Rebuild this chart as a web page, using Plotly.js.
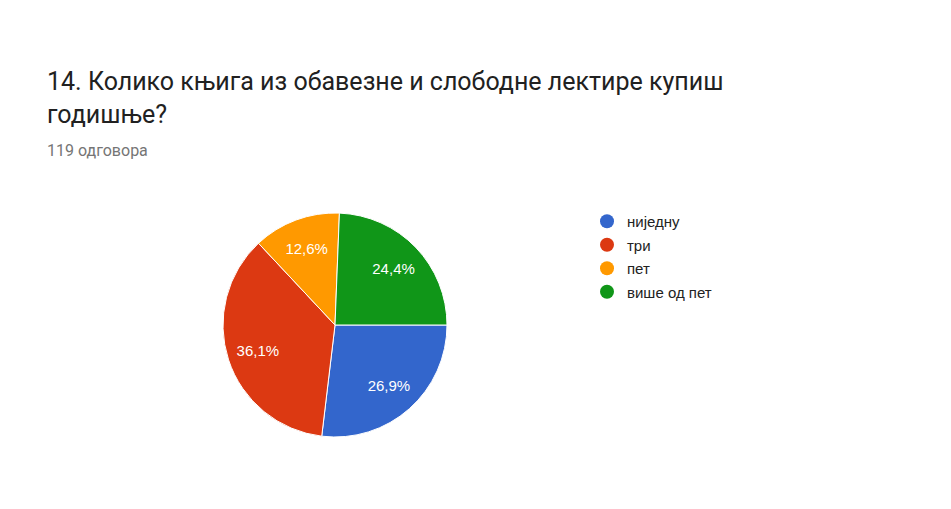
<!DOCTYPE html>
<html>
<head>
<meta charset="utf-8">
<script src="https://cdn.plot.ly/plotly-3.0.1.min.js"></script>
<style>html,body{margin:0;padding:0;background:#fff;}#chart{width:951px;height:509px;}</style>
</head>
<body>
<div id="chart"></div>
<script>
var categories = ["ниједну", "три", "пет", "више од пет"];
var counts = [32, 43, 15, 29];
var colors = ["#3366cc", "#dc3912", "#ff9900", "#109618"];
var titleLine1 = "14. Колико књига из обавезне и слободне лектире купиш";
var titleLine2 = "годишње?";
var subtitle = "119 одговора";

var W = 951, H = 509;
var pieDomain = {x: [223/W, 447/W], y: [1 - 437/H, 1 - 213/H]};
var traces = [{
  type: "pie",
  labels: categories,
  values: counts,
  sort: false,
  direction: "clockwise",
  rotation: 90,
  marker: {colors: colors, line: {color: "#ffffff", width: 1}},
  textinfo: "none",
  domain: pieDomain,
  showlegend: false,
  hoverinfo: "none"
}, {
  // transparent ring that only carries the percentage labels
  type: "pie",
  labels: categories,
  values: counts,
  sort: false,
  direction: "clockwise",
  rotation: 90,
  hole: 0.45,
  marker: {colors: ["rgba(0,0,0,0)", "rgba(0,0,0,0)", "rgba(0,0,0,0)", "rgba(0,0,0,0)"], line: {width: 0}},
  texttemplate: "%{percent:.1%}",
  textposition: "inside",
  insidetextorientation: "horizontal",
  textfont: {family: "Arial, Liberation Sans, sans-serif", size: 15, color: "#ffffff"},
  domain: pieDomain,
  showlegend: false,
  hoverinfo: "none"
}];
categories.forEach(function (c, i) {
  traces.push({
    type: "scatter", mode: "markers", x: [null], y: [null], name: c,
    legendgroup: "g" + i,
    marker: {symbol: "circle", size: 14, color: colors[i]},
    hoverinfo: "none"
  });
});

var layout = {
  width: W, height: H,
  margin: {l: 0, r: 0, t: 0, b: 0},
  paper_bgcolor: "#ffffff", plot_bgcolor: "rgba(0,0,0,0)",
  separators: ",.",
  xaxis: {visible: false, domain: [0.9, 1]},
  yaxis: {visible: false, domain: [0.9, 1]},
  showlegend: true,
  legend: {
    x: 587/W, y: 1 - 205/H, xanchor: "left", yanchor: "top",
    font: {family: "Arial, Liberation Sans, sans-serif", size: 15, color: "#222222"},
    tracegroupgap: 1, itemclick: false, bgcolor: "rgba(0,0,0,0)"
  },
  annotations: [
    {text: titleLine1, xref: "paper", yref: "paper", x: 45/W, y: 1 - 98/H, xanchor: "left", yanchor: "bottom",
     showarrow: false, font: {family: "Roboto, sans-serif", size: 25, color: "#212121"}},
    {text: titleLine2, xref: "paper", yref: "paper", x: 45/W, y: 1 - 131/H, xanchor: "left", yanchor: "bottom",
     showarrow: false, font: {family: "Roboto, sans-serif", size: 25, color: "#212121"}},
    {text: subtitle, xref: "paper", yref: "paper", x: 45/W, y: 1 - 139/H, xanchor: "left", yanchor: "top",
     showarrow: false, font: {family: "Roboto, sans-serif", size: 16, color: "#757575"}}
  ]
};
Plotly.newPlot("chart", traces, layout, {displayModeBar: false, staticPlot: true});
</script>
</body>
</html>
